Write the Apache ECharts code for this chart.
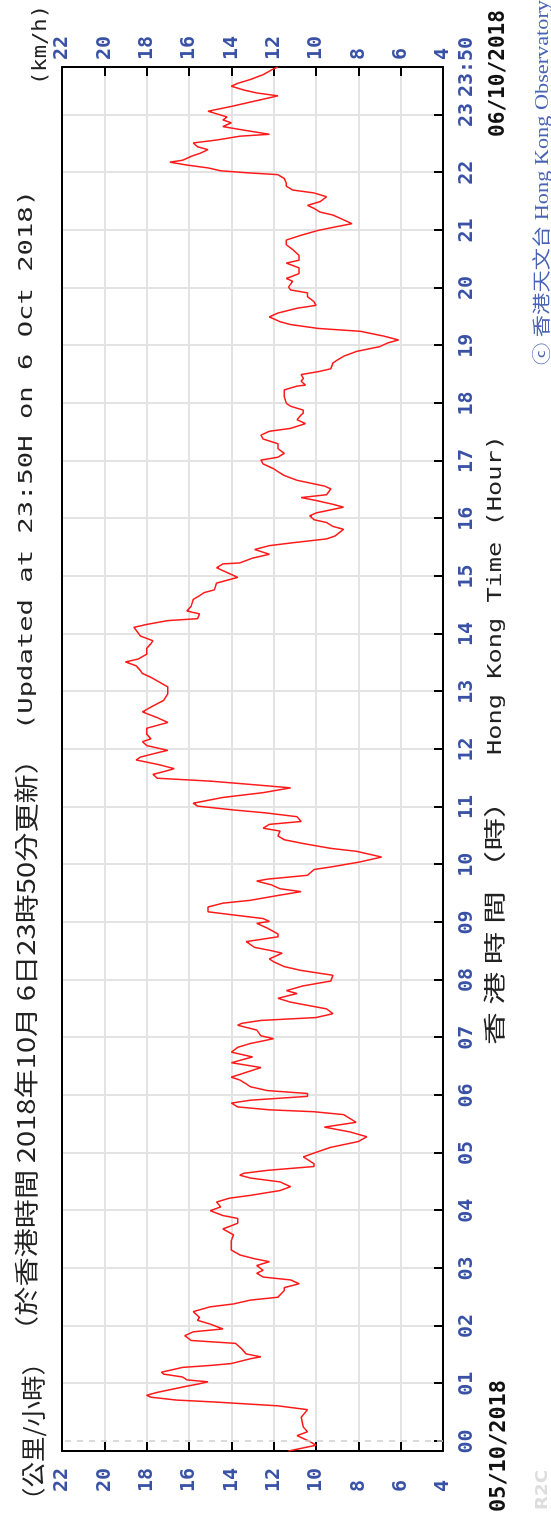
<!DOCTYPE html>
<html>
<head>
<meta charset="utf-8">
<script src="https://cdn.jsdelivr.net/npm/echarts@6/dist/echarts.min.js"></script>
<style>
  html, body { margin: 0; padding: 0; width: 551px; height: 1523px; overflow: hidden; background: #fff; }
  /* The chart is laid out landscape and turned a quarter-turn counter-clockwise. */
  #chart { position: absolute; left: 0; top: 0; width: 1523px; height: 551px;
           transform-origin: 0 0; transform: translate(0, 1523px) rotate(-90deg); }
</style>
</head>
<body>
<div id="chart"></div>
<script>
// Minutes from 00:00 on 6 Oct 2018 (negative = before midnight)
const minutes = [
  -10, -4, 0, 6, 10, 15, 25, 33, 37, 39, 41, 43, 46, 48, 51, 57, 60, 62, 64, 67, 70, 72, 77, 79, 81, 86, 88, 91, 96, 102,
  105, 110, 114, 117, 122, 126, 129, 135, 140, 143, 147, 150, 157, 160, 164, 168, 171, 175, 178, 183, 187, 190, 194, 199,
  202, 209, 215, 221, 227, 232, 235, 240, 244, 249, 253, 256, 261, 265, 270, 274, 277, 279, 282, 286, 289, 296, 300, 306,
  312, 317, 322, 327, 332, 336, 340, 343, 345, 348, 352, 355, 359, 362, 365, 369, 372, 376, 379, 384, 389, 394, 400, 405,
  410, 414, 419, 422, 428, 433, 435, 438, 441, 445, 450, 457, 461, 466, 469, 474, 479, 485, 490, 494, 499, 502, 508, 511,
  514, 520, 525, 528, 534, 539, 541, 544, 548, 551, 556, 560, 563, 568, 572, 575, 579, 583, 585, 589, 595, 598, 603, 608,
  614, 617, 622, 626, 630, 635, 638, 642, 645, 650, 654, 657, 661, 664, 670, 675, 680, 683, 687, 690, 694, 698, 700, 704,
  709, 712, 717, 719, 724, 728, 731, 736, 742, 748, 753, 759, 764, 771, 778, 785, 790, 795, 799, 802, 807, 811, 814, 819,
  825, 830, 833, 838, 844, 847, 850, 854, 856, 861, 864, 869, 876, 880, 883, 886, 893, 899, 902, 909, 913, 914, 919, 923,
  928, 932, 935, 939, 942, 949, 952, 956, 959, 963, 966, 972, 975, 979, 982, 985, 991, 994, 1000, 1005, 1009, 1012, 1017,
  1021, 1024, 1028, 1033, 1038, 1043, 1047, 1051, 1054, 1059, 1063, 1068, 1070, 1073, 1077, 1080, 1087, 1094, 1098, 1099,
  1103, 1106, 1110, 1113, 1116, 1122, 1125, 1129, 1134, 1139, 1143, 1146, 1150, 1155, 1158, 1162, 1165, 1170, 1174, 1179,
  1182, 1186, 1191, 1195, 1198, 1201, 1207, 1210, 1215, 1221, 1226, 1229, 1234, 1240, 1245, 1250, 1255, 1260, 1264, 1267,
  1271, 1276, 1279, 1283, 1286, 1290, 1295, 1299, 1302, 1306, 1309, 1314, 1318, 1320, 1322, 1325, 1328, 1331, 1333, 1337,
  1340, 1344, 1347, 1351, 1354, 1358, 1360, 1365, 1368, 1372, 1375, 1378, 1382, 1384, 1389, 1392, 1396, 1400, 1403, 1406,
  1410, 1413, 1417, 1422, 1427, 1430
];
// 10-minute mean wind speed (km/h)
const speeds = [
  11.3, 10.0, 10.3, 10.9, 10.4, 10.6, 10.7, 10.4, 11.8, 13.3, 14.8, 16.6, 17.8, 18.0, 17.5, 16.2, 15.5, 15.1, 16.1, 16.3,
  17.2, 17.3, 16.3, 15.0, 14.0, 13.1, 12.6, 13.3, 13.5, 13.8, 15.9, 16.2, 15.8, 14.4, 15.0, 15.6, 15.5, 15.8, 15.0, 13.9,
  13.1, 11.8, 11.5, 11.5, 10.8, 11.2, 12.5, 12.8, 12.5, 12.8, 12.2, 12.9, 13.6, 14.0, 14.0, 14.0, 13.9, 14.4, 13.7, 13.7,
  14.4, 15.0, 14.5, 14.7, 14.1, 13.1, 11.7, 11.2, 11.7, 13.1, 13.6, 13.4, 12.3, 10.1, 10.1, 10.6, 10.1, 9.3, 8.0, 7.6,
  8.4, 9.6, 8.1, 8.4, 8.7, 10.1, 12.2, 13.7, 14.0, 13.1, 10.4, 10.4, 12.3, 13.1, 13.3, 13.6, 14.0, 13.3, 12.6, 14.0,
  13.0, 14.0, 13.7, 13.1, 12.0, 12.6, 12.8, 13.7, 13.5, 12.6, 10.0, 9.2, 9.5, 11.2, 11.8, 10.9, 11.4, 10.6, 9.3, 9.2,
  10.7, 11.5, 12.0, 12.2, 11.6, 12.2, 12.9, 13.3, 11.8, 11.8, 12.3, 12.8, 12.2, 12.5, 14.0, 15.1, 15.1, 14.4, 13.1, 11.8,
  10.7, 11.7, 12.1, 12.8, 12.3, 10.4, 10.1, 9.2, 7.9, 6.9, 8.1, 9.3, 10.6, 11.5, 11.8, 11.7, 12.5, 12.2, 10.7, 10.9,
  12.4, 13.9, 15.6, 15.8, 14.4, 12.5, 11.2, 12.8, 15.0, 17.5, 17.7, 17.0, 16.7, 17.4, 18.5, 18.3, 17.4, 17.0, 18.0, 18.2,
  17.8, 18.0, 18.0, 17.0, 17.5, 18.2, 17.8, 17.2, 17.0, 17.0, 17.4, 17.8, 18.2, 18.3, 18.5, 19.0, 18.4, 18.0, 18.0, 17.8,
  17.7, 18.3, 18.5, 18.6, 18.0, 17.0, 15.6, 15.5, 16.1, 15.9, 15.8, 15.5, 15.3, 14.8, 14.7, 13.7, 14.0, 14.7, 14.4, 13.6,
  13.0, 12.2, 12.9, 12.2, 11.1, 9.5, 9.1, 8.7, 9.2, 9.5, 10.1, 10.3, 10.0, 8.7, 9.2, 10.0, 10.7, 9.5, 9.3, 9.6,
  10.9, 11.5, 11.8, 12.0, 12.5, 12.6, 11.8, 11.5, 11.8, 11.8, 12.5, 12.6, 12.2, 11.2, 10.5, 10.9, 10.7, 10.6, 10.6, 11.2,
  11.4, 11.5, 11.5, 10.9, 10.5, 10.7, 10.6, 10.7, 9.9, 9.3, 9.2, 9.0, 8.7, 8.1, 7.0, 6.6, 6.1, 6.8, 7.9, 9.9,
  11.2, 11.7, 12.2, 11.8, 10.9, 10.0, 10.1, 10.4, 10.4, 11.2, 11.3, 11.1, 11.4, 10.8, 10.8, 11.4, 10.8, 10.8, 11.1, 11.4,
  11.4, 10.7, 9.9, 9.0, 8.3, 8.7, 9.2, 9.8, 10.1, 10.4, 9.8, 9.5, 10.1, 11.1, 11.4, 11.4, 11.5, 11.8, 13.3, 14.5,
  15.1, 16.1, 16.9, 16.3, 15.9, 15.5, 15.1, 15.6, 15.8, 14.7, 13.6, 12.2, 13.6, 14.4, 14.0, 14.4, 14.2, 14.8, 15.1, 14.0,
  13.4, 12.6, 11.8, 12.8, 13.4, 14.0, 13.7, 13.1, 12.5, 12.1, 11.8
];
// Hour tick positions (minutes) and their labels
const hourMinutes = [0, 60, 120, 180, 240, 300, 360, 420, 480, 540, 600, 660, 720, 780, 840, 900,
                     960, 1020, 1080, 1140, 1200, 1260, 1320, 1380];
const hourLabels = ['00', '01', '02', '03', '04', '05', '06', '07', '08', '09', '10', '11', '12', '13', '14', '15',
                    '16', '17', '18', '19', '20', '21', '22', '23'];
const endMinute = 1430;
const endLabel = '23:50';

const labelBlue = '#3a52a6';
const monoFont = "'DejaVu Sans Mono', monospace";
const cjkFont = "'Noto Sans CJK TC', 'Noto Sans CJK SC', sans-serif";

const labelFor = {};
hourMinutes.forEach((m, i) => { labelFor[m] = hourLabels[i]; });
labelFor[endMinute] = endLabel;

const chart = echarts.init(document.getElementById('chart'), null, { renderer: 'canvas', width: 1523, height: 551 });

// Stretch a text element along its reading direction to a given length
const measureCtx = document.createElement('canvas').getContext('2d');
function fitted(t) {
  const font = `${t.weight || 'normal'} ${t.size}px ${t.family}`;
  measureCtx.font = font;
  const w = measureCtx.measureText(t.text).width;
  return {
    type: 'text', x: t.x, y: t.y, scaleX: t.len / w, silent: true,
    style: { text: t.text, fontSize: t.size, fontFamily: t.family, fontWeight: t.weight || 'normal',
             fill: t.color, align: t.align || 'left', verticalAlign: 'middle' }
  };
}

const texts = [
  { text: '（公里/小時）', x: 10, y: 33, len: 163, size: 24, family: cjkFont, color: '#222' },
  { text: '（於香港時間 2018年10月 6日23時50分更新）', x: 178, y: 26, len: 600, size: 24, family: cjkFont, color: '#222' },
  { text: '(Updated at 23:50H on 6 Oct 2018)', x: 793, y: 27, len: 540, size: 20, family: monoFont, color: '#222' },
  { text: '(km/h)', x: 1438, y: 41, len: 80, size: 20, family: monoFont, color: '#222' },
  { text: '香 港 時 間 （時）', x: 478, y: 494, len: 260, size: 22, family: cjkFont, color: '#222' },
  { text: 'Hong Kong Time (Hour)', x: 768, y: 496, len: 320, size: 20, family: monoFont, color: '#222' },
  { text: '05/10/2018', x: 11, y: 500, len: 132, size: 21, family: monoFont, weight: 'bold', color: '#111' },
  { text: '06/10/2018', x: 1513, y: 499, len: 127, size: 21, family: monoFont, weight: 'bold', color: '#111', align: 'right' },
  { text: 'ⓒ 香港天文台 Hong Kong Observatory', x: 1158, y: 543, len: 365, size: 18,
    family: "'Liberation Serif', 'Noto Sans CJK TC', serif", color: '#4a63b5' },
  { text: 'R2C', x: 13, y: 543, len: 40, size: 15, family: "'DejaVu Sans', sans-serif", weight: 'bold', color: '#dddddd' }
];

const axisLabelStyle = { fontFamily: monoFont, fontWeight: 'bold', fontSize: 20, color: labelBlue };
const frame = { lineStyle: { color: '#000', width: 2 } };

chart.setOption({
  animation: false,
  backgroundColor: '#fff',
  grid: { left: 72, right: 67, top: 62, bottom: 108, containLabel: false },
  xAxis: [
    {
      type: 'value', min: -10, max: endMinute, position: 'bottom',
      axisLine: { show: true, onZero: false, ...frame },
      axisTick: { show: true, inside: true, length: 9, customValues: hourMinutes, lineStyle: { color: '#000', width: 2 } },
      axisLabel: { ...axisLabelStyle, margin: 14, customValues: hourMinutes.concat([endMinute]),
                   formatter: v => labelFor[v] || '' },
      splitLine: { show: false }
    },
    {
      type: 'value', min: -10, max: endMinute, position: 'top',
      axisLine: { show: true, onZero: false, ...frame },
      axisTick: { show: false, customValues: hourMinutes.slice(1) },
      axisLabel: { show: false },
      splitLine: { show: true, lineStyle: { color: '#e3e3e3', width: 2 } }
    }
  ],
  yAxis: [
    {
      type: 'value', min: 4, max: 22, interval: 2, position: 'left',
      axisLine: { show: true, onZero: false, ...frame },
      axisTick: { show: true, inside: true, length: 9, lineStyle: { color: '#000', width: 2 } },
      axisLabel: { ...axisLabelStyle, margin: 41, align: 'left' },
      splitLine: { show: true, lineStyle: { color: '#e3e3e3', width: 2 } }
    },
    {
      type: 'value', min: 4, max: 22, interval: 2, position: 'right',
      axisLine: { show: true, onZero: false, ...frame },
      axisTick: { show: true, inside: true, length: 9, lineStyle: { color: '#000', width: 2 } },
      axisLabel: { ...axisLabelStyle, margin: 7, align: 'left' },
      splitLine: { show: false }
    }
  ],
  series: [{
    type: 'line',
    xAxisIndex: 0, yAxisIndex: 0,
    data: minutes.map((m, i) => [m, speeds[i]]),
    showSymbol: false,
    clip: true,
    lineStyle: { color: '#ff1a1a', width: 1.5 },
    markLine: {
      silent: true, symbol: 'none', label: { show: false },
      lineStyle: { type: [6, 6], color: '#cfcfcf', width: 1.5 },
      data: [{ xAxis: 0 }]
    },
    z: 3
  }],
  graphic: texts.map(fitted)
});
</script>
</body>
</html>
